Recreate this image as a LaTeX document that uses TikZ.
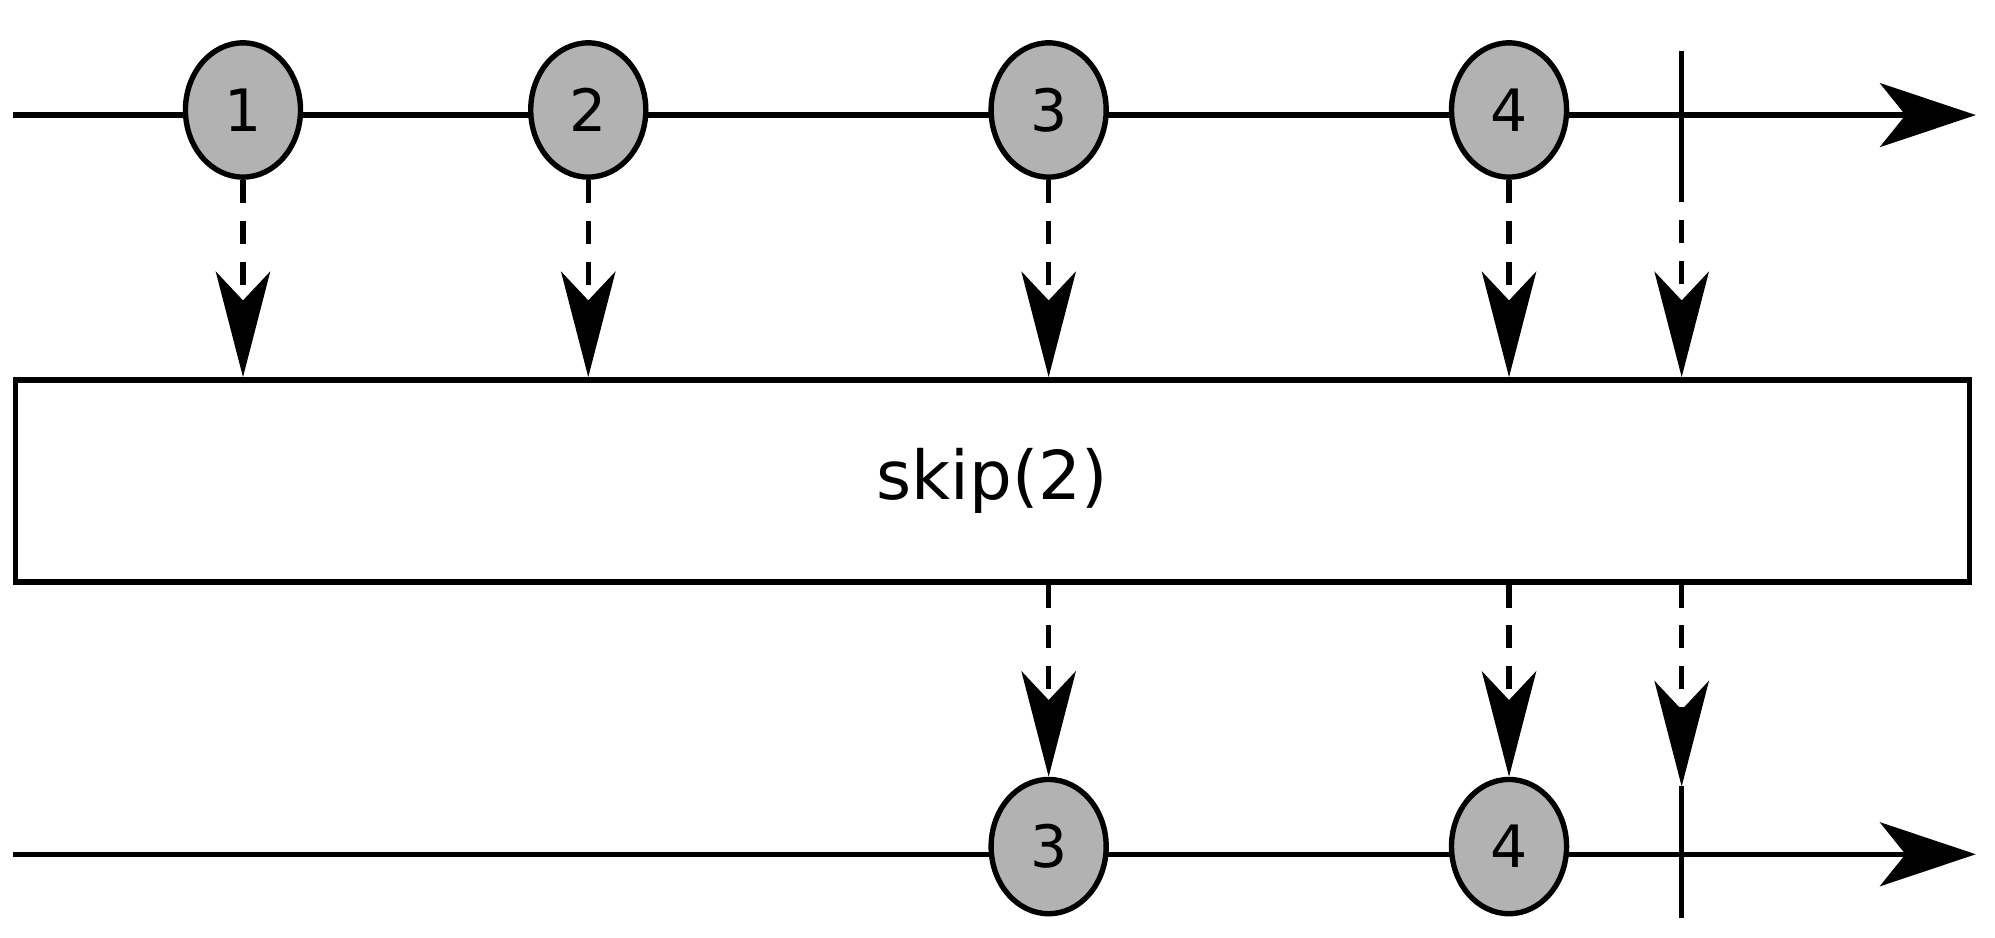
\documentclass[tikz,border=0pt]{standalone}
\usepackage{fontspec}
\setmainfont{DejaVu Sans}
\usetikzlibrary{arrows.meta,shapes.geometric}
\begin{document}
\begin{tikzpicture}[x=0.02cm,y=-0.02cm,line width=2.4pt,
  timeline/.style={-{Stealth[length=1.5cm,width=1cm,inset=0.4cm]}},
  emit/.style={dash pattern=on 0.36cm off 0.28cm,-{Stealth[length=1.65cm,width=0.85cm,inset=0.45cm]}},
  item/.style={ellipse,draw,fill=black!30,minimum width=1.8cm,minimum height=2.1cm,inner sep=0pt,font=\fontsize{26}{26}\selectfont}]
 \useasboundingbox (0,0) rectangle (1560,733);

 % source stream
 \coordinate (s0) at (10,90);
 \coordinate (s1) at (1545,90);
 \draw[timeline] (s0) -- (s1);
 \node[item](A) at (190,86)  {1};
 \node[item](B) at (460,86)  {2};
 \node[item](C) at (820,86)  {3};
 \node[item](D) at (1180,86) {4};
 \coordinate (t0) at (1315,40);
 \coordinate (t1) at (1315,140);
 \draw (t0) -- (t1);

 % operator
 \node[draw,minimum width=30.56cm,minimum height=3.16cm,font=\fontsize{30}{30}\selectfont](op) at (776,376) {skip(2)};

 \draw[emit] (A.south) -- (A.south |- op.north);
 \draw[emit] (B.south) -- (B.south |- op.north);
 \draw[emit] (C.south) -- (C.south |- op.north);
 \draw[emit] (D.south) -- (D.south |- op.north);
 \draw[emit] (t1) -- (t1 |- op.north);

 % result stream
 \coordinate (r0) at (10,668);
 \coordinate (r1) at (1545,668);
 \draw[timeline] (r0) -- (r1);
 \node[item](C2) at (820,662)  {3};
 \node[item](D2) at (1180,662) {4};
 \coordinate (u0) at (1315,615);
 \coordinate (u1) at (1315,718);
 \draw (u0) -- (u1);

 \draw[emit] (C2.north |- op.south) -- (C2.north);
 \draw[emit] (D2.north |- op.south) -- (D2.north);
 \draw[emit] (u0 |- op.south) -- (u0);
\end{tikzpicture}
\end{document}
